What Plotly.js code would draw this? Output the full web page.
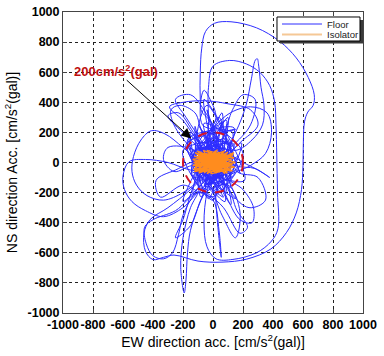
<!DOCTYPE html>
<html><head><meta charset="utf-8">
<script src="https://cdn.plot.ly/plotly-3.0.1.min.js"></script>
<style>html,body{margin:0;padding:0;background:#fff}#chart{width:384px;height:356px}</style>
</head><body><div id="chart"></div>
<script>
// Floor acceleration orbit (EW, NS) in cm/s^2
var floorEW = [0,60,-40,90,-80,30,-120,110,-50,20,
 -70,-85,-85,-75,-50,10,120,290,445,555,635,675,668,632,610,602,600,590,555,490,385,225,60,-100,-260,-330,-400,-450,-460,-420,-300,-150,-50,
 80,-100,40,130,-30,-140,100,-60,150,-10,
 -30,-30,0,111,222,311,378,411,420,425,430,433,390,290,133,20,-40,-60,-40,0,
 120,-90,60,-130,20,140,-70,90,-150,50,
 150,220,256,282,295,305,320,340,330,260,150,
 -100,70,-40,160,-120,30,110,-80,
 -200,-320,-411,-480,-530,-540,-510,-440,-330,-200,-100,
 50,-60,130,-20,80,-110,40,
 -150,-300,-450,-560,-600,-590,-540,-450,-330,-200,-100,
 -150,-200,-215,-192,-180,-170,-150,-80,
 90,-130,60,10,-90,140,
 200,300,378,280,150,
 -100,-200,-290,-200,-50,100,250,300,200,80,
 0,100,250,360,390,350,250,
 100,200,270,260,180,100,40,
 20,30,55,40,0,
 -100,-250,-400,-456,-445,-400,-330,-270,-230,-200,-120,
 60,-50,120,-140,40,-10,100,-80,30,
 -150,-260,-280,-220,-120,-60,
 150,-180,90,-60,200,-20,-160,110,40,-100,170,-130,60,0,-200,140,-90,20,180,-40,
 -110,70,-170,130,-30,90,-140,210,-60,10,
 -50,-180,-250,-150,-30,
 50,130,200,280,250,120,
 -100,-200,-250,-150,-50,
 100,180,150,60,
 -100,-250,-380,-350,-200,
 -60,-120,-80,60,-20,140,-170,80,-40,120,-110,30,
 -120,-300,-330,-260,-120,
 90,160,230,180,70,
 -140,-60,40,190,-200,100,-30,-150,60,0,
 -80,-60,-20,20,-40,
 120,60,-90,150,-150,20,-60,90,
 160,300,350,240,100,
 -130,-230,-300,-180,-60,
 40,-20,110,-100,0];
var floorNS = [0,90,130,-30,-60,170,60,40,-160,200,
 250,420,600,760,870,925,935,895,805,695,565,450,380,335,270,120,-20,-180,-335,-465,-575,-642,-662,-655,-615,-630,-645,-590,-470,-380,-300,-180,-80,
 100,-20,-140,80,160,-90,-60,100,10,-190,
 300,500,640,678,655,600,511,400,250,50,-200,-440,-522,-600,-644,-640,-560,-400,-200,-80,
 120,70,-100,-40,110,-80,-130,160,30,40,
 200,380,556,680,690,640,500,380,250,150,80,
 130,-150,60,-40,-110,150,-120,0,
 100,190,211,150,40,-60,-150,-220,-250,-200,-120,
 120,-90,60,-160,20,90,-60,
 -50,0,20,5,-90,-180,-260,-320,-360,-300,-200,
 -300,-500,-700,-867,-780,-600,-450,-250,
 90,10,-130,180,-70,30,
 0,-50,-100,-40,-20,
 150,280,370,400,410,390,350,250,150,60,
 200,320,370,330,200,60,-20,
 -100,-180,-300,-400,-380,-250,-120,
 -200,-400,-630,-450,-250,
 -200,-320,-380,-430,-540,-620,-640,-600,-480,-350,-200,
 40,170,-30,-60,110,-140,130,40,-60,
 100,250,350,380,330,200,
 220,120,-200,260,60,-230,190,-170,300,-90,40,-210,330,-250,80,120,-180,250,-70,380,
 -40,-230,150,200,-150,280,10,-120,420,-20,
 100,300,420,450,300,
 150,350,450,420,250,100,
 -100,-380,-500,-420,-200,
 -150,-330,-500,-350,
 0,-50,-120,-230,-150,
 -200,240,-230,270,-150,230,120,-260,350,-280,160,-100,
 80,100,20,-60,-20,
 -150,-320,-430,-470,-300,
 -80,180,-200,130,-260,300,-240,200,-100,250,
 350,480,420,300,150,
 -100,-60,240,-240,60,80,-160,160,
 -60,-100,-250,-300,-180,
 200,330,310,180,60,
 -80,160,-90,60,0];
// Isolator acceleration orbit
var isoEW = [-20,60,-90,110,-120,40,-60,130,-100,20,90,-130,70,-40,140,-80,10,120,-110,50,-70,100,-30,145,-125,30,-50,80,-95,120,0,-135,60,-15,110,-85,35,-55,135,-110,15,95,-75,55,-30,125,-120,70,-45,100,-100,25,-65,150,-130,45,-10,85,-90,5,115,-60,40,-115,75,-25,130,-80,20,-40,105,-105,65,-5,-135,90,-50,30,-70,140,-95,50,-20,110,-125,0,80,-60,125,-35];
var isoNS = [10,-40,50,20,-30,70,-60,-10,30,-70,60,0,-50,80,30,-50,50,-60,60,0,-20,70,-65,-30,40,30,-40,80,-70,10,-50,20,55,-75,-45,70,-20,35,50,-55,75,-70,10,40,-30,-15,65,-65,55,25,-10,-55,80,0,-45,65,-10,-35,20,60,45,-70,-5,10,75,-45,-55,45,20,-75,-5,75,-25,40,-20,5,-15,85,-55,65,-35,-60,70,-25,-60,30,-75,60,35,0];
var xTicks = [-1000,-800,-600,-400,-200,0,200,400,600,800,1000];
var yTicks = [-1000,-800,-600,-400,-200,0,200,400,600,800,1000];
var seriesNames = ['Floor', 'Isolator'];
var seriesColors = ['rgb(45,45,255)', 'rgb(255,140,30)'];
var circleRadius = 200;
var noteText = '200cm/s<sup>2</sup>(gal)';

var FONT = 'Arial, "Liberation Sans", sans-serif';
var traces = [
 {x: floorEW, y: floorNS, type: 'scatter', mode: 'lines', name: seriesNames[0], showlegend: false,
  line: {color: seriesColors[0], width: 1, shape: 'spline', smoothing: 1}},
 {x: isoEW, y: isoNS, type: 'scatter', mode: 'lines', name: seriesNames[1], showlegend: false,
  line: {color: seriesColors[1], width: 1.3}}
];
var axisCommon = {
 range: [-1000, 1000], tickmode: 'array', showgrid: true, gridcolor: '#222',
 griddash: 'dot', gridwidth: 1, zeroline: false, showline: true, linecolor: '#444',
 linewidth: 1, mirror: 'ticks', ticks: 'inside', ticklen: 4, tickcolor: '#444',
 tickangle: 0,
 tickfont: {family: FONT, size: 12.5, color: '#000', weight: 'bold'}
};
// hand-made legend box (paper coordinates)
var legShapes = [
 {type: 'rect', xref: 'paper', yref: 'paper', x0: 0.7233, x1: 1.0, y0: 0.8953, y1: 0.9734,
  layer: 'above', line: {width: 0}, fillcolor: '#3a3a3a'},
 {type: 'rect', xref: 'paper', yref: 'paper', x0: 0.7133, x1: 0.99, y0: 0.9037, y1: 0.9834,
  layer: 'above', line: {color: '#000', width: 1}, fillcolor: '#fff'},
 {type: 'line', xref: 'paper', yref: 'paper', x0: 0.73, x1: 0.8633, y0: 0.9601, y1: 0.9601,
  layer: 'above', line: {color: seriesColors[0], width: 1}},
 {type: 'line', xref: 'paper', yref: 'paper', x0: 0.73, x1: 0.8633, y0: 0.9252, y1: 0.9252,
  layer: 'above', line: {color: 'rgb(245,200,150)', width: 2}}
];
var legNotes = [0.9601, 0.9252].map(function (yy, i) {
 return {xref: 'paper', yref: 'paper', x: 0.872, y: yy, xanchor: 'left', yanchor: 'middle',
  text: seriesNames[i], showarrow: false,
  font: {family: FONT, size: 9.5, color: '#222'}};
});
var layout = {
 width: 384, height: 356, paper_bgcolor: '#fff', plot_bgcolor: '#fff',
 margin: {l: 63, r: 21, t: 12, b: 43},
 showlegend: false,
 xaxis: Object.assign({}, axisCommon, {tickvals: xTicks, ticktext: xTicks.map(String),
  title: {text: 'EW direction acc. [cm/s<sup>2</sup>(gal)]', standoff: 3,
   font: {family: FONT, size: 14, color: '#000'}}}),
 yaxis: Object.assign({}, axisCommon, {tickvals: yTicks, ticktext: yTicks.map(String),
  title: {text: 'NS direction Acc. [cm/s<sup>2</sup>(gal)]', standoff: 6,
   font: {family: FONT, size: 14, color: '#000'}}}),
 shapes: [
  {type: 'circle', xref: 'x', yref: 'y', x0: -circleRadius, x1: circleRadius,
   y0: -circleRadius, y1: circleRadius, layer: 'above',
   line: {color: 'rgb(210,20,40)', width: 2, dash: 'dash'}}].concat(legShapes),
 annotations: [{x: -145, y: 160, xref: 'x', yref: 'y', ax: -645, ay: 610,
  axref: 'x', ayref: 'y', text: noteText, showarrow: true, arrowhead: 2,
  arrowsize: 2, arrowwidth: 1, arrowcolor: '#000',
  font: {family: FONT, size: 13, color: 'rgb(190,15,15)', weight: 'bold'}}].concat(legNotes)
};
Plotly.newPlot('chart', traces, layout, {displayModeBar: false, staticPlot: true});
</script></body></html>
